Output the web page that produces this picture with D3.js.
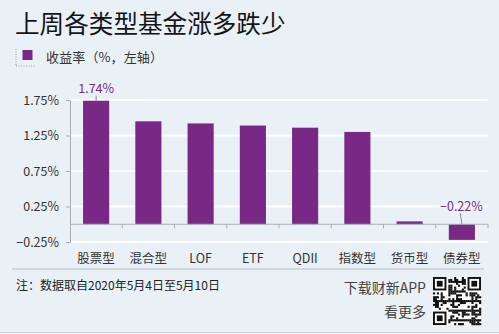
<!DOCTYPE html>
<html><head><meta charset="utf-8">
<script src="https://cdn.jsdelivr.net/npm/d3@7"></script>
<style>
html,body{margin:0;padding:0;background:#e9f1f6;}
svg{display:block;font-family:"Noto Sans CJK SC","Noto Sans",sans-serif;}
</style></head><body>
<svg id="c" width="499" height="334"></svg>
<script>
const categories = ["股票型","混合型","LOF","ETF","QDII","指数型","货币型","债券型"];
const values = [1.74, 1.45, 1.42, 1.39, 1.36, 1.30, 0.04, -0.22];
const yTicks = [-0.25, 0.25, 0.75, 1.25, 1.75];
const labelled = [0, 7];

const svg = d3.select("#c");
const W = 499, H = 334;
svg.append("rect").attr("width", W).attr("height", H).attr("fill", "#e9f1f6");

const x = d3.scaleBand().domain(categories).range([70, 488]).paddingInner(0.5).paddingOuter(0.25);
const y = d3.scaleLinear().domain([-0.25, 1.75]).range([242, 100]);

// title
svg.append("text").attr("x", 15).attr("y", 33).attr("font-size", 24.6).attr("fill", "#151515")
  .text("上周各类型基金涨多跌少");

// legend
const lg = svg.append("g");
lg.append("line").attr("x1", 16).attr("x2", 16).attr("y1", 49).attr("y2", 66)
  .attr("stroke", "#9aa3ad").attr("stroke-width", 1).attr("stroke-dasharray", "1,1.5");
lg.append("line").attr("x1", 16).attr("x2", 36).attr("y1", 66).attr("y2", 66)
  .attr("stroke", "#9aa3ad").attr("stroke-width", 1).attr("stroke-dasharray", "1,1.5");
lg.append("rect").attr("x", 22.5).attr("y", 50).attr("width", 10).attr("height", 10).attr("fill", "#7a2886");
lg.append("text").attr("x", 46).attr("y", 62).attr("font-size", 13).attr("fill", "#333")
  .attr("textLength", 117).attr("lengthAdjust", "spacing").text("收益率（%，左轴）");

// gridlines
svg.append("g").selectAll("line").data(yTicks).join("line")
  .attr("x1", 70).attr("x2", 488).attr("y1", d => y(d)).attr("y2", d => y(d))
  .attr("stroke", "#ffffff").attr("stroke-width", 2);

// y axis
const ya = svg.append("g").attr("transform", "translate(70,0)")
  .call(d3.axisLeft(y).tickValues(yTicks).tickSize(4).tickPadding(7).tickFormat(d => (d < 0 ? "−" : "") + Math.abs(d).toFixed(2) + "%"));
ya.select(".domain").attr("stroke", "#a8aeb5");
ya.selectAll(".tick line").attr("stroke", "#a8aeb5");
ya.selectAll("text").attr("font-size", 12.5).attr("fill", "#333").attr("font-family", "'Noto Sans CJK SC',sans-serif");

// bars
svg.append("g").selectAll("rect").data(values).join("rect")
  .attr("x", (d, i) => x(categories[i]))
  .attr("width", x.bandwidth())
  .attr("y", d => y(Math.max(0, d)))
  .attr("height", d => Math.abs(y(d) - y(0)))
  .attr("fill", "#7a2886");

// zero axis with ticks between bands
const xa = svg.append("g");
xa.append("line").attr("x1", 70).attr("x2", 488).attr("y1", y(0)).attr("y2", y(0)).attr("stroke", "#a8aeb5");
const step = x.step();
xa.selectAll("line.t").data(d3.range(1, categories.length + 1)).join("line").attr("class", "t")
  .attr("x1", i => 70 + (x(categories[0]) - 70 - step * 0.25) + i * step)
  .attr("x2", i => 70 + (x(categories[0]) - 70 - step * 0.25) + i * step)
  .attr("y1", y(0)).attr("y2", y(0) + 4).attr("stroke", "#a8aeb5");

// category labels
svg.append("g").selectAll("text").data(categories).join("text")
  .attr("x", d => x(d) + x.bandwidth() / 2).attr("y", 262.5)
  .attr("text-anchor", "middle").attr("font-size", 12.5).attr("fill", "#333").text(d => d);

// value labels
labelled.forEach(i => {
  const v = values[i];
  const cx = x(categories[i]) + x.bandwidth() / 2;
  const txt = (v < 0 ? "−" : "") + Math.abs(v).toFixed(2) + "%";
  if (v >= 0) {
    svg.append("line").attr("x1", cx).attr("x2", cx).attr("y1", y(v) - 5).attr("y2", y(v)).attr("stroke", "#888");
    svg.append("text").attr("x", cx).attr("y", y(v) - 8).attr("text-anchor", "middle")
      .attr("font-size", 12.5).attr("fill", "#7a2886").text(txt);
  } else {
    svg.append("line").attr("x1", cx - 1.5).attr("x2", cx).attr("y1", y(0) - 11).attr("y2", y(0)).attr("stroke", "#888");
    svg.append("text").attr("x", cx - 0.5).attr("y", y(0) - 13.5).attr("text-anchor", "middle")
      .attr("font-size", 12.5).attr("fill", "#7a2886").text(txt);
  }
});

// footer
svg.append("line").attr("x1", 12).attr("x2", 484).attr("y1", 269).attr("y2", 269).attr("stroke", "#b8bec4");
svg.append("text").attr("x", 16).attr("y", 290).attr("font-size", 12).attr("fill", "#222")
  .text("注：数据取自2020年5月4日至5月10日");
svg.append("text").attr("x", 426).attr("y", 292.5).attr("text-anchor", "end").attr("font-size", 14).attr("fill", "#444").text("下载财新APP");
svg.append("text").attr("x", 426).attr("y", 317).attr("text-anchor", "end").attr("font-size", 14).attr("fill", "#444").text("看更多");

// QR-like decoration (deterministic pattern)
const qr = svg.append("g").attr("transform", "translate(433,277)");
const n = 25, cs = 48 / n;
qr.append("rect").attr("width", 48).attr("height", 48).attr("fill", "#fff");
const seed = "caixin-app-download-qr-code-pattern-mobile";
const cells = [];
for (let r = 0; r < n; r++) for (let c = 0; c < n; c++) {
  const inFinder = (r < 8 && c < 8) || (r < 8 && c >= n - 8) || (r >= n - 8 && c < 8);
  if (inFinder) continue;
  const code = seed.charCodeAt((r * 7 + c * 3) % seed.length);
  if (((code * (r + 3) + c * 13 + r * c) % 5) < 2) cells.push([r, c]);
}
qr.selectAll("rect.m").data(cells).join("rect").attr("class", "m")
  .attr("x", d => d[1] * cs).attr("y", d => d[0] * cs).attr("width", cs + 0.2).attr("height", cs + 0.2).attr("fill", "#111");
[[0, 0], [0, n - 7], [n - 7, 0]].forEach(([r, c]) => {
  qr.append("rect").attr("x", c * cs).attr("y", r * cs).attr("width", 7 * cs).attr("height", 7 * cs).attr("fill", "#111");
  qr.append("rect").attr("x", (c + 1) * cs).attr("y", (r + 1) * cs).attr("width", 5 * cs).attr("height", 5 * cs).attr("fill", "#fff");
  qr.append("rect").attr("x", (c + 2) * cs).attr("y", (r + 2) * cs).attr("width", 3 * cs).attr("height", 3 * cs).attr("fill", "#111");
});
svg.append("line").attr("x1", 0).attr("x2", W).attr("y1", 332.5).attr("y2", 332.5).attr("stroke", "#c8cfd5");
</script>
</body></html>
